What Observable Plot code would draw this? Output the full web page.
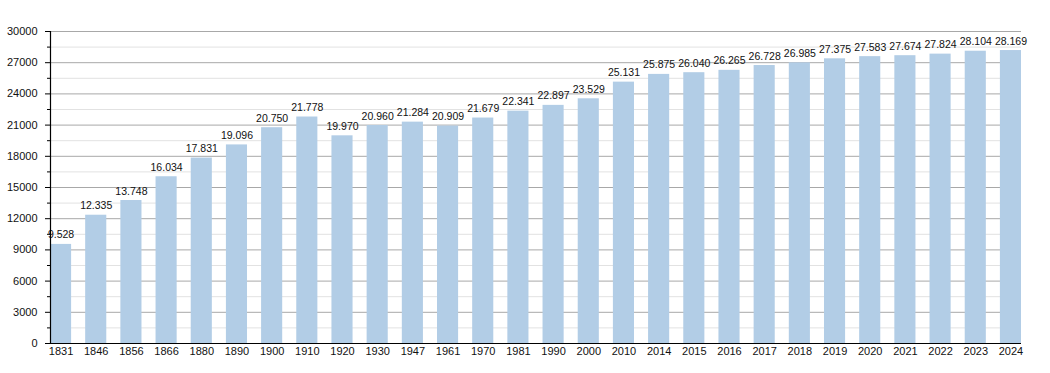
<!DOCTYPE html>
<html>
<head>
<meta charset="utf-8">
<script src="https://cdn.jsdelivr.net/npm/d3@7"></script>
<script src="https://cdn.jsdelivr.net/npm/@observablehq/plot@0.6"></script>
<style>
  html, body { margin: 0; padding: 0; background: #fff; }
  svg { display: block; }
</style>
</head>
<body>
<div id="chart"></div>
<script>
const years = ["1831","1846","1856","1866","1880","1890","1900","1910","1920","1930","1947","1961","1970","1981","1990","2000","2010","2014","2015","2016","2017","2018","2019","2020","2021","2022","2023","2024"];
const population = [9528,12335,13748,16034,17831,19096,20750,21778,19970,20960,21284,20909,21679,22341,22897,23529,25131,25875,26040,26265,26728,26985,27375,27583,27674,27824,28104,28169];
const majorTicks = [0,3000,6000,9000,12000,15000,18000,21000,24000,27000,30000];
const minorTicks = [1500,4500,7500,10500,13500,16500,19500,22500,25500,28500];

const data = years.map((y, i) => ({year: y, pop: population[i]}));
const fmt = d3.formatLocale({thousands: ".", grouping: [3], decimal: ","}).format(",d");
const font = "'Liberation Sans', Arial, sans-serif";

const chart = Plot.plot({
  width: 1050,
  height: 373,
  marginLeft: 50,
  marginRight: 29,
  marginTop: 31,
  marginBottom: 30,
  style: {fontFamily: font, fontSize: "11px", color: "#111", background: "#fff"},
  x: {domain: years, paddingInner: 0.4, paddingOuter: 0, align: 0.5, round: false, label: null},
  y: {domain: [0, 30000], label: null},
  marks: [
    Plot.ruleY(minorTicks, {stroke: "#e2e2e2", strokeWidth: 1}),
    Plot.ruleY(majorTicks, {stroke: "#a8a8a8", strokeWidth: 1}),
    Plot.barY(data, {x: "year", y: "pop", fill: "#b2cde6"}),
    Plot.text(data, {x: "year", y: "pop", text: d => fmt(d.pop), lineAnchor: "bottom", dy: -6, fontSize: 10.5, fill: "#111"}),
    Plot.axisY({ticks: minorTicks, tickSize: 3, tickFormat: null, text: null, stroke: "#000"}),
    Plot.axisY({ticks: majorTicks, tickSize: 5, tickPadding: 8, tickFormat: d => String(d), fontSize: 11, stroke: "#000", fill: "#111"}),
    Plot.axisX({tickSize: 0, tickPadding: 4, fontSize: 11, fill: "#111"}),
    Plot.ruleY([0], {stroke: "#000", strokeWidth: 1.2}),
    Plot.frame({anchor: "left", stroke: "#000", strokeWidth: 1.2})
  ]
});
document.getElementById("chart").appendChild(chart);
</script>
</body>
</html>
